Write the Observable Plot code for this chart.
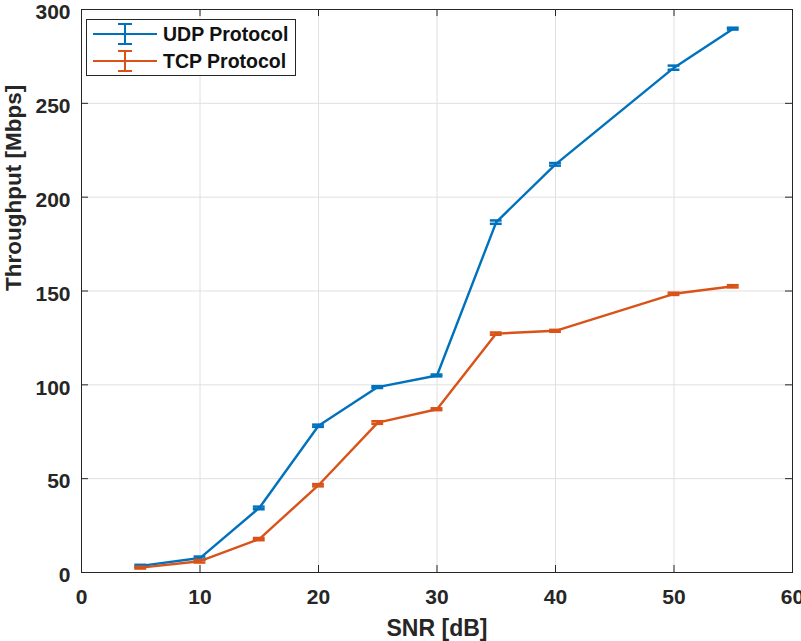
<!DOCTYPE html>
<html>
<head>
<meta charset="utf-8">
<script src="https://cdn.jsdelivr.net/npm/d3@7"></script>
<script src="https://cdn.jsdelivr.net/npm/@observablehq/plot@0.6"></script>
<style>
  html, body { margin: 0; padding: 0; background: #fff; }
  #wrap { position: relative; width: 801px; height: 641px; font-family: "Liberation Sans", Arial, Helvetica, sans-serif; color: #262626; }
  #wrap svg { overflow: visible; }
  #wrap svg text { font-weight: bold; }
  #legend { position: absolute; left: 86px; top: 19px; }
</style>
</head>
<body>
<div id="wrap"></div>
<script>
// Measured throughput versus SNR for the two transport protocols
const snr = [5, 10, 15, 20, 25, 30, 35, 40, 50, 55];
const udpThroughput = [3.5, 7.7, 34.4, 78.2, 98.8, 105.0, 186.7, 217.5, 269.0, 289.8];
const tcpThroughput = [2.6, 6.0, 17.8, 46.5, 79.9, 87.0, 127.3, 128.8, 148.5, 152.5];
const udpError = [0.6, 0.8, 0.7, 0.6, 0.5, 0.5, 0.9, 0.7, 1.1, 0.5];
const tcpError = [0.5, 0.7, 0.6, 0.6, 0.7, 0.5, 0.6, 0.5, 0.6, 0.6];

const seriesNames = ["UDP Protocol", "TCP Protocol"];
const seriesColors = ["#0072BD", "#D95319"];
const xTicks = [0, 10, 20, 30, 40, 50, 60];
const yTicks = [0, 50, 100, 150, 200, 250, 300];

const rows = [
  ...snr.map((s, i) => ({series: seriesNames[0], snr: s, value: udpThroughput[i], err: udpError[i]})),
  ...snr.map((s, i) => ({series: seriesNames[1], snr: s, value: tcpThroughput[i], err: tcpError[i]}))
];

const W = 801, H = 641;
const mL = 81, mR = 9, mT = 9, mB = 69;
const innerW = W - mL - mR, innerH = H - mT - mB;
const tickLen = 7;
const capHalf = 0.5; // half width of an error-bar cap, in dB
const axisColor = "#262626";

const chart = Plot.plot({
  width: W, height: H,
  marginLeft: mL, marginRight: mR, marginTop: mT, marginBottom: mB,
  style: {fontFamily: '"Liberation Sans", Arial, sans-serif', color: axisColor, background: "#fff", overflow: "visible"},
  x: {domain: [0, 60]},
  y: {domain: [0, 300]},
  color: {domain: seriesNames, range: seriesColors},
  marks: [
    Plot.gridX(xTicks, {stroke: "#e0e0e0", strokeOpacity: 1}),
    Plot.gridY(yTicks, {stroke: "#e0e0e0", strokeOpacity: 1}),
    Plot.line(rows, {x: "snr", y: "value", z: "series", stroke: "series", strokeWidth: 2.4}),
    Plot.ruleX(rows, {x: "snr", y1: d => d.value - d.err, y2: d => d.value + d.err, stroke: "series", strokeWidth: 2}),
    Plot.ruleY(rows, {y: d => d.value - d.err, x1: d => d.snr - capHalf, x2: d => d.snr + capHalf, stroke: "series", strokeWidth: 2.5}),
    Plot.ruleY(rows, {y: d => d.value + d.err, x1: d => d.snr - capHalf, x2: d => d.snr + capHalf, stroke: "series", strokeWidth: 2.5}),
    Plot.frame({stroke: axisColor, strokeWidth: 1}),
    // inward ticks on all four sides of the box
    Plot.tickY(yTicks, {y: d => d, insetRight: innerW - tickLen, stroke: axisColor}),
    Plot.tickY(yTicks, {y: d => d, insetLeft: innerW - tickLen, stroke: axisColor}),
    Plot.tickX(xTicks, {x: d => d, insetTop: innerH - tickLen, stroke: axisColor}),
    Plot.tickX(xTicks, {x: d => d, insetBottom: innerH - tickLen, stroke: axisColor}),
    Plot.axisX({ticks: xTicks, tickSize: 0, tickPadding: 17, fontSize: 21, label: null}),
    Plot.axisY({ticks: yTicks, tickSize: 0, tickPadding: 11, dy: 3, fontSize: 21, label: null}),
    Plot.text(["SNR [dB]"], {text: d => d, frameAnchor: "bottom", lineAnchor: "top", dy: 47, fontSize: 23, fontWeight: "bold", fill: axisColor}),
    Plot.text(["Throughput [Mbps]"], {text: d => d, frameAnchor: "left", rotate: -90, dx: -68, fontSize: 22.5, fontWeight: "bold", fill: axisColor})
  ]
});

const wrap = document.getElementById("wrap");
wrap.appendChild(chart);

// Legend box with line + error-bar swatches
const lg = d3.select(wrap).append("svg")
  .attr("id", "legend")
  .attr("width", 211).attr("height", 58);
lg.append("rect")
  .attr("x", 0.5).attr("y", 0.5).attr("width", 209).attr("height", 56)
  .attr("fill", "#fff").attr("stroke", axisColor).attr("stroke-width", 1);
seriesNames.forEach((name, i) => {
  const cy = 15 + i * 27;
  const g = lg.append("g").attr("stroke", seriesColors[i]).attr("stroke-width", 2);
  g.append("line").attr("x1", 7).attr("x2", 71).attr("y1", cy).attr("y2", cy);
  g.append("line").attr("x1", 39).attr("x2", 39).attr("y1", cy - 10).attr("y2", cy + 10);
  g.append("line").attr("x1", 32).attr("x2", 46).attr("y1", cy - 10).attr("y2", cy - 10);
  g.append("line").attr("x1", 32).attr("x2", 46).attr("y1", cy + 10).attr("y2", cy + 10);
  lg.append("text")
    .attr("x", 77).attr("y", cy + 7)
    .attr("font-size", 19.5).attr("font-weight", "bold")
    .attr("font-family", '"Liberation Sans", Arial, sans-serif')
    .attr("fill", "#111")
    .text(name);
});
</script>
</body>
</html>
